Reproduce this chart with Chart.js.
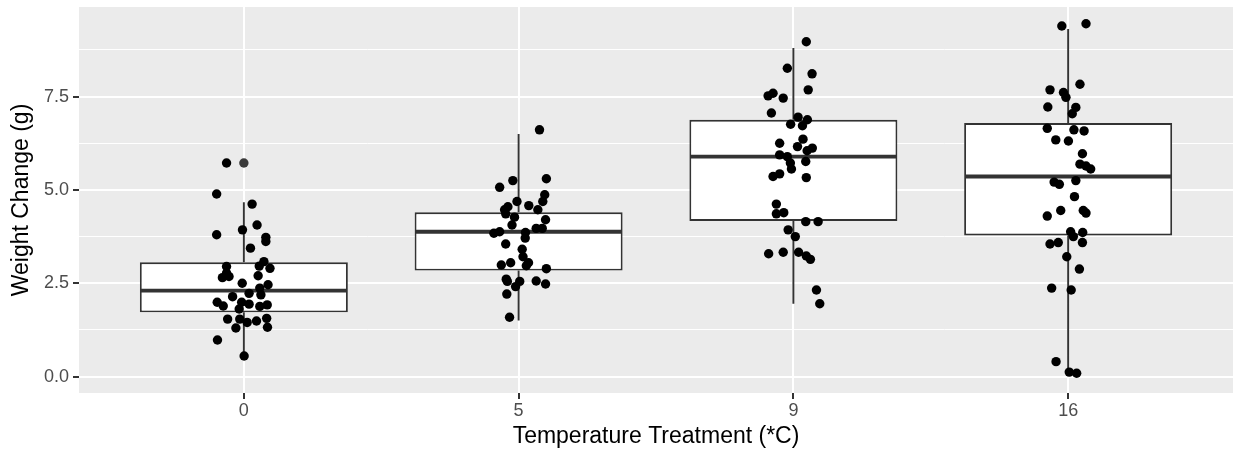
<!DOCTYPE html>
<html>
<head>
<meta charset="utf-8">
<script src="https://cdn.jsdelivr.net/npm/chart.js@4.4.1/dist/chart.umd.min.js"></script>
<style>
  html, body { margin: 0; padding: 0; background: #fff; }
  #wrap { width: 1238px; height: 452px; }
</style>
</head>
<body>
<div id="wrap"><canvas id="chart"></canvas></div>
<script>
// categories and box statistics
const categories = ["0", "5", "9", "16"];
const whiskerLow = [0.57, 1.50, 1.95, 0.09];
const boxQ1 = [1.72, 2.84, 4.17, 3.78];
const boxMedian = [2.30, 3.88, 5.89, 5.36];
const boxQ3 = [3.06, 4.40, 6.88, 6.79];
const whiskerHigh = [4.67, 6.50, 8.80, 9.31];
const outlierGroup = [0];
const outlierValue = [5.72];

// jittered points: offset from category centre (category units) and value
const jitter0 = [-0.063, -0.099, 0.030, 0.048, -0.005, -0.099, 0.080, 0.080, 0.024, 0.073, -0.063, 0.056, 0.095, -0.063, -0.078, -0.054, 0.052, -0.006, 0.088, 0.058, 0.019, 0.062, -0.041, -0.008, -0.097, -0.075, 0.019, 0.085, 0.058, -0.017, -0.059, -0.015, 0.012, 0.046, 0.083, -0.029, 0.086, -0.096, 0.001];
const weight0 = [5.72, 4.89, 4.62, 4.06, 3.93, 3.80, 3.73, 3.62, 3.44, 3.08, 2.95, 2.96, 2.90, 2.77, 2.65, 2.68, 2.70, 2.50, 2.46, 2.37, 2.23, 2.19, 2.14, 1.99, 1.99, 1.89, 1.94, 1.92, 1.88, 1.81, 1.54, 1.54, 1.45, 1.49, 1.56, 1.30, 1.32, 0.98, 0.55];
const jitter5 = [0.076, 0.101, -0.021, -0.069, 0.095, 0.088, -0.006, 0.037, -0.039, -0.051, 0.070, -0.047, -0.015, 0.098, -0.024, 0.064, 0.086, -0.069, -0.090, 0.025, 0.024, -0.047, 0.013, 0.016, 0.036, -0.029, -0.063, 0.028, 0.101, -0.045, -0.041, 0.004, 0.064, 0.098, -0.011, -0.043, -0.033];
const weight5 = [6.61, 5.30, 5.25, 5.07, 4.87, 4.69, 4.69, 4.58, 4.55, 4.47, 4.47, 4.36, 4.27, 4.20, 4.06, 3.97, 3.97, 3.88, 3.84, 3.86, 3.71, 3.55, 3.41, 3.21, 3.05, 3.05, 2.99, 2.97, 2.89, 2.61, 2.55, 2.55, 2.56, 2.48, 2.41, 2.21, 1.59];
const jitter9 = [0.047, -0.022, 0.068, 0.054, -0.092, -0.074, -0.037, -0.080, 0.017, 0.051, -0.010, 0.033, 0.035, -0.050, 0.069, 0.015, 0.050, -0.050, -0.022, -0.011, 0.045, -0.007, -0.050, -0.074, 0.047, -0.062, -0.062, -0.035, 0.045, 0.090, -0.019, 0.007, -0.090, -0.037, 0.019, 0.047, 0.062, 0.084, 0.096];
const weight9 = [8.97, 8.26, 8.11, 7.68, 7.52, 7.59, 7.46, 7.06, 6.95, 6.88, 6.76, 6.72, 6.36, 6.25, 6.12, 6.16, 6.05, 5.94, 5.89, 5.72, 5.76, 5.56, 5.43, 5.36, 5.33, 4.62, 4.36, 4.39, 4.15, 4.15, 3.93, 3.75, 3.29, 3.33, 3.33, 3.23, 3.14, 2.32, 1.95];
const jitter16 = [-0.023, 0.065, 0.043, -0.066, -0.017, -0.008, -0.074, 0.028, 0.015, -0.076, 0.021, 0.058, -0.045, 0.001, 0.052, 0.043, 0.065, 0.082, -0.051, -0.032, 0.028, 0.023, -0.027, -0.076, 0.055, 0.065, 0.009, 0.053, 0.019, -0.066, -0.036, 0.052, -0.005, 0.041, -0.060, 0.011, -0.044, 0.004, 0.031];
const weight16 = [9.39, 9.45, 7.83, 7.68, 7.61, 7.48, 7.22, 7.21, 7.04, 6.65, 6.61, 6.58, 6.34, 6.31, 5.97, 5.69, 5.64, 5.56, 5.21, 5.15, 5.25, 4.82, 4.45, 4.30, 4.45, 4.38, 3.88, 3.86, 3.75, 3.55, 3.59, 3.59, 3.21, 2.88, 2.37, 2.32, 0.40, 0.12, 0.09];

const yTicks = [0, 1.25, 2.5, 3.75, 5, 6.25, 7.5, 8.75];
const boxHalf = 0.375;

const jitters = [jitter0, jitter5, jitter9, jitter16];
const weights = [weight0, weight5, weight9, weight16];

const points = [];
weights.forEach((ws, g) => {
  ws.forEach((w, i) => points.push({ x: g + jitters[g][i], y: w }));
});

const whiskers = [];
const medians = [];
categories.forEach((c, i) => {
  whiskers.push({ x: i, y: whiskerLow[i] }, { x: i, y: boxQ1[i] }, { x: i, y: null });
  whiskers.push({ x: i, y: boxQ3[i] }, { x: i, y: whiskerHigh[i] }, { x: i, y: null });
  medians.push({ x: i - boxHalf, y: boxMedian[i] }, { x: i + boxHalf, y: boxMedian[i] }, { x: i, y: null });
});

//grey panel behind the grid
const panelBg = {
  id: "panelBg",
  beforeDraw(c) {
    const { ctx, chartArea: a } = c;
    ctx.save();
    ctx.fillStyle = "#EBEBEB";
    ctx.fillRect(a.left, a.top, a.right - a.left, a.bottom - a.top);
    ctx.restore();
  },
};

const isMajor = (v) => Math.abs(v / 2.5 - Math.round(v / 2.5)) < 1e-6;
const fontFamily = "Liberation Sans, Arial, sans-serif";

const chart = document.querySelector("#chart").getContext("2d");

new Chart(chart, {
  type: "bar",
  data: {
    datasets: [
      {
        type: "bar",
        data: categories.map((c, i) => ({ x: i, y: [boxQ1[i], boxQ3[i]] })),
        backgroundColor: "#FFFFFF",
        borderColor: "#333333",
        borderWidth: 1.9,
        borderSkipped: false,
        barPercentage: 0.757,
        categoryPercentage: 1,
        order: 5,
      },
      {
        type: "line",
        data: whiskers,
        borderColor: "#333333",
        borderWidth: 1.9,
        pointRadius: 0,
        spanGaps: false,
        order: 4,
      },
      {
        type: "line",
        data: medians,
        borderColor: "#333333",
        borderWidth: 3.8,
        borderCapStyle: "butt",
        pointRadius: 0,
        spanGaps: false,
        order: 3,
      },
      {
        type: "scatter",
        data: outlierGroup.map((g, i) => ({ x: g, y: outlierValue[i] })),
        backgroundColor: "#3A3A3A",
        borderWidth: 0,
        pointRadius: 4.7,
        order: 2,
      },
      {
        type: "scatter",
        data: points,
        backgroundColor: "#000000",
        borderWidth: 0,
        pointRadius: 4.7,
        order: 1,
      },
    ],
  },
  options: {
    responsive: true,
    maintainAspectRatio: false,
    animation: false,
    events: [],
    layout: { padding: { top: 7, right: 5, left: 0, bottom: 0 } },
    plugins: { legend: { display: false }, tooltip: { enabled: false } },
    scales: {
      x: {
        type: "linear",
        min: -0.6,
        max: 3.6,
        offset: false,
        afterBuildTicks: (s) => { s.ticks = categories.map((c, i) => ({ value: i })); },
        afterFit: (s) => { s.height = 59; s.paddingLeft = 0; s.paddingRight = 0; },
        border: { display: false },
        grid: { offset: false, color: "#FFFFFF", lineWidth: 2, tickColor: "#333333", tickLength: 6, tickWidth: 2 },
        ticks: {
          autoSkip: false,
          maxRotation: 0,
          padding: 3,
          color: "#4D4D4D",
          font: { family: fontFamily, size: 18, lineHeight: 1 },
          callback: (v) => categories[v],
        },
        title: {
          display: true,
          text: "Temperature Treatment (*C)",
          color: "#000000",
          font: { family: fontFamily, size: 23, lineHeight: 1 },
          padding: { top: 0, bottom: 4 },
        },
      },
      y: {
        type: "linear",
        min: -0.44,
        max: 9.9,
        afterBuildTicks: (s) => { s.ticks = yTicks.map((v) => ({ value: v })); },
        afterFit: (s) => { s.width = 79; s.paddingTop = 0; s.paddingBottom = 0; },
        border: { display: false },
        grid: {
          color: "#FFFFFF",
          lineWidth: (ctx) => (ctx.tick && isMajor(ctx.tick.value) ? 2 : 1),
          tickColor: (ctx) => (ctx.tick && isMajor(ctx.tick.value) ? "#333333" : "rgba(0,0,0,0)"),
          tickLength: 6,
          tickWidth: 2,
        },
        ticks: {
          autoSkip: false,
          padding: 4,
          color: "#4D4D4D",
          font: { family: fontFamily, size: 18, lineHeight: 1 },
          callback: (v) => (isMajor(v) ? v.toFixed(1) : ""),
        },
        title: {
          display: true,
          text: "Weight Change (g)",
          color: "#000000",
          font: { family: fontFamily, size: 23, lineHeight: 1 },
          padding: { top: 10, bottom: 0 },
        },
      },
    },
  },
  plugins: [panelBg],
});
</script>
</body>
</html>
